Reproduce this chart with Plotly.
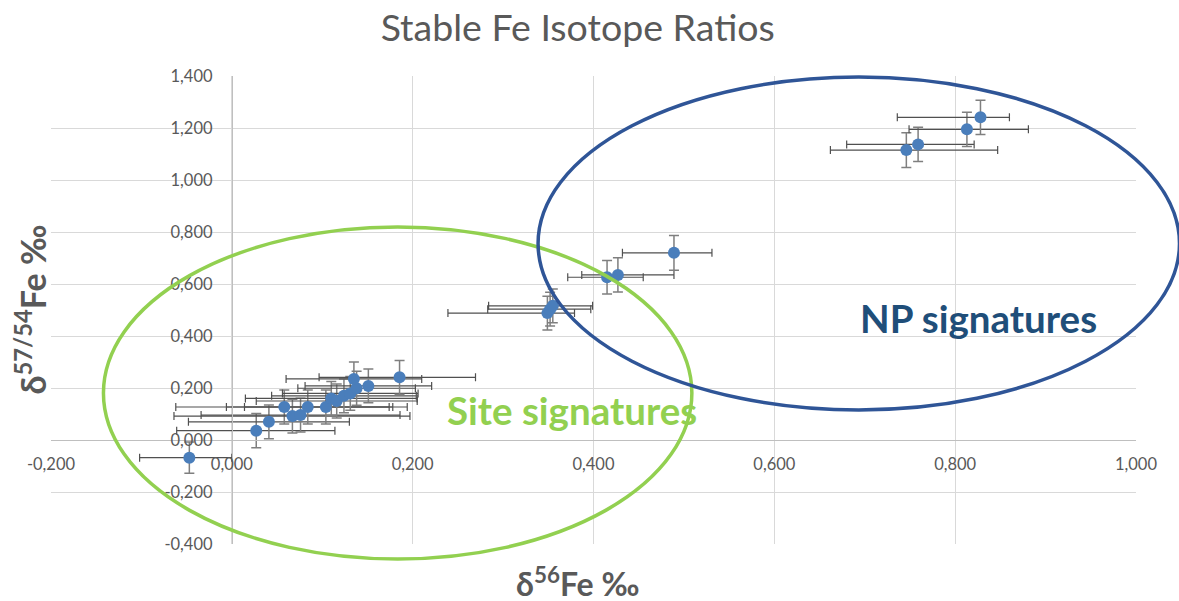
import plotly.graph_objects as go

# Stable Fe isotope measurements: delta56Fe (x) vs delta57/54Fe (y), per mil
d56 = [-0.047, 0.027, 0.041, 0.058, 0.067, 0.076, 0.084, 0.104, 0.110, 0.116,
       0.124, 0.131, 0.138, 0.135, 0.151, 0.1855, 0.349, 0.352, 0.355, 0.415,
       0.427, 0.489, 0.746, 0.759, 0.813, 0.828]
d57 = [-0.068, 0.036, 0.070, 0.127, 0.092, 0.096, 0.127, 0.127, 0.160, 0.150,
       0.170, 0.179, 0.199, 0.235, 0.208, 0.241, 0.488, 0.503, 0.516, 0.626,
       0.635, 0.720, 1.115, 1.137, 1.195, 1.241]
d56_err_minus = [0.055, 0.088, 0.089, 0.120, 0.131, 0.110, 0.090, 0.090, 0.095, 0.089,
                 0.080, 0.075, 0.065, 0.075, 0.070, 0.089, 0.110, 0.069, 0.071, 0.0435,
                 0.040, 0.057, 0.084, 0.079, 0.064, 0.092]
d56_err_plus = [0.047, 0.087, 0.089, 0.120, 0.130, 0.110, 0.090, 0.090, 0.095, 0.089,
                0.080, 0.075, 0.065, 0.075, 0.070, 0.084, 0.030, 0.045, 0.044, 0.040,
                0.062, 0.042, 0.101, 0.062, 0.068, 0.032]
d57_err = [0.060, 0.066, 0.065, 0.065, 0.065, 0.065, 0.065, 0.065, 0.065, 0.065,
           0.065, 0.065, 0.065, 0.065, 0.065, 0.065, 0.065, 0.065, 0.065, 0.064,
           0.066, 0.067, 0.067, 0.066, 0.066, 0.066]

x_ticks = [-0.2, 0.0, 0.2, 0.4, 0.6, 0.8, 1.0]
x_tick_labels = ["-0,200", "0,000", "0,200", "0,400", "0,600", "0,800", "1,000"]
y_ticks = [-0.4, -0.2, 0.0, 0.2, 0.4, 0.6, 0.8, 1.0, 1.2, 1.4]
y_tick_labels = ["-0,400", "-0,200", "0,000", "0,200", "0,400", "0,600",
                 "0,800", "1,000", "1,200", "1,400"]

# Grouping ellipses (center x, center y, radius x, radius y) in data units
site_ellipse = (0.1834, 0.1808, 0.3254, 0.6385)
np_ellipse = (0.6934, 0.7558, 0.3547, 0.6404)

X_RANGE = (-0.2, 1.0)
Y_RANGE = (-0.4, 1.4)
FONT = "Lato"
GREY = "#595959"


def to_paper_x(v):
    return (v - X_RANGE[0]) / (X_RANGE[1] - X_RANGE[0])


def to_paper_y(v):
    return (v - Y_RANGE[0]) / (Y_RANGE[1] - Y_RANGE[0])


def ellipse_shape(e, color):
    cx, cy, rx, ry = e
    return dict(type="circle", xref="paper", yref="paper",
                x0=to_paper_x(cx - rx), x1=to_paper_x(cx + rx),
                y0=to_paper_y(cy - ry), y1=to_paper_y(cy + ry),
                line=dict(color=color, width=3.5), layer="above")


fig = go.Figure()
fig.add_trace(go.Scatter(
    x=d56, y=d57, mode="markers",
    marker=dict(size=12, color="#4a7ebb"),
    error_x=dict(type="data", symmetric=False, array=d56_err_plus,
                 arrayminus=d56_err_minus, color="#505050", thickness=1.2, width=4),
    error_y=dict(type="data", array=d57_err, color="#7f7f7f", thickness=1.5, width=5),
    showlegend=False,
))

axis_common = dict(
    showgrid=True, gridcolor="#d9d9d9", gridwidth=1,
    zeroline=False, showline=True, linecolor="#bfbfbf", linewidth=1,
    ticks="", tickfont=dict(family=FONT, size=16.5, color=GREY),
    anchor="free",
)

fig.update_layout(
    width=1179, height=601,
    margin=dict(l=50.5, r=42.5, t=76, b=57),
    paper_bgcolor="white", plot_bgcolor="white",
    title=dict(text="Stable Fe Isotope Ratios", x=0.49, xanchor="center",
               y=1 - 28 / 601, yanchor="middle",
               font=dict(family=FONT, size=37.5, color=GREY)),
    xaxis=dict(range=list(X_RANGE), tickvals=x_ticks, ticktext=x_tick_labels,
               position=to_paper_y(0.0), ticklabelstandoff=9, **axis_common),
    yaxis=dict(range=list(Y_RANGE), tickvals=y_ticks, ticktext=y_tick_labels,
               position=to_paper_x(0.0), ticklabelstandoff=16, **axis_common),
    shapes=[ellipse_shape(site_ellipse, "#92d050"),
            ellipse_shape(np_ellipse, "#2f5597")],
    annotations=[
        dict(text="<b>NP signatures</b>", x=0.826, y=0.468, xref="x", yref="y",
             showarrow=False, font=dict(family=FONT, size=38.5, color="#1f4e79")),
        dict(text="<b>Site signatures</b>", x=0.3766, y=0.115, xref="x", yref="y",
             showarrow=False, font=dict(family=FONT, size=38.5, color="#92d050")),
        dict(text="<b>δ<sup>56</sup>Fe ‰</b>", x=to_paper_x((577 - 231.5) / 905),
             y=(544 - 582) / 468, xref="paper", yref="paper",
             xanchor="center", yanchor="middle", showarrow=False,
             font=dict(family=FONT, size=32, color=GREY)),
        dict(text="<b>δ<sup>57/54</sup>Fe ‰</b>", x=(30 - 50.5) / 1086,
             y=(544 - 310) / 468, xref="paper", yref="paper", textangle=-90,
             xanchor="center", yanchor="middle", showarrow=False,
             font=dict(family=FONT, size=34, color=GREY)),
    ],
)

fig.write_html("out.html")
